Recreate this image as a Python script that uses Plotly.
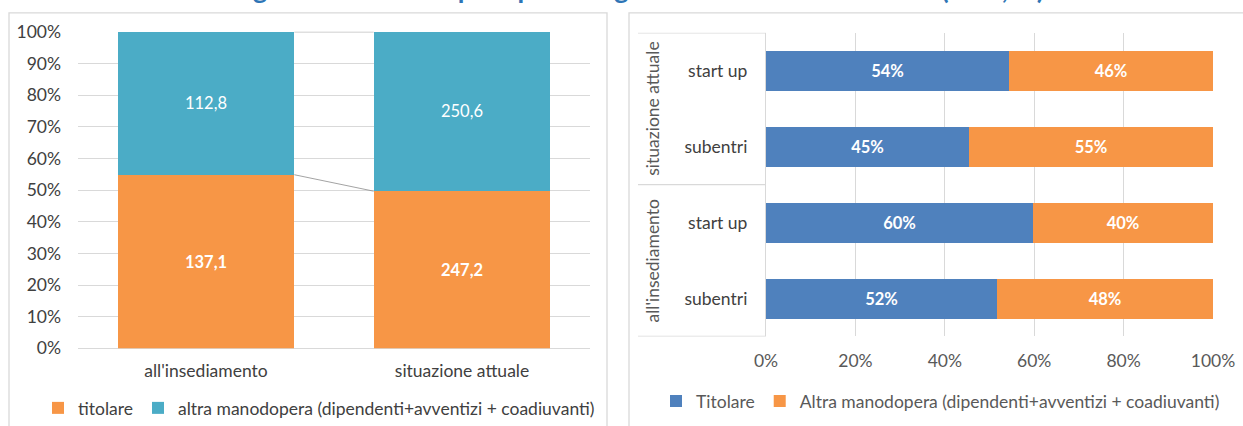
import plotly.graph_objects as go

# ---------------- data ----------------
left_categories = ["all'insediamento", "situazione attuale"]
left_titolare = [137.1, 247.2]
left_altra = [112.8, 250.6]

right_groups = ["all'insediamento", "all'insediamento", "situazione attuale", "situazione attuale"]
right_sub = ["subentri", "start up", "subentri", "start up"]
right_titolare = [51.6, 59.7, 45.4, 54.4]
right_altra = [48.4, 40.3, 54.6, 45.6]

left_ticks = [0, 10, 20, 30, 40, 50, 60, 70, 80, 90, 100]
right_ticks = [0, 20, 40, 60, 80, 100]

title_text = "Figura 5 – Manodopera per categoria e modalità di accesso (ULU, %)"

# ---------------- style ----------------
W, H = 1243, 426
FONT = "Lato"
ORANGE = "#F79646"
TEAL = "#4BACC6"
BLUE = "#4F81BD"
GRID = "#D9D9D9"
TXT = "#595959"
DARK = "#404040"
FS = 17.5
LFS = 16.5

def px_x(p):
    return p / W

def px_y(p):
    return 1 - p / H

fig = go.Figure()

# ---- left chart (100% stacked columns) ----
tot = [a + b for a, b in zip(left_titolare, left_altra)]
pct_tit = [a / t * 100 for a, t in zip(left_titolare, tot)]
pct_alt = [b / t * 100 for b, t in zip(left_altra, tot)]
xs = list(range(len(left_categories)))
bw_left = 0.69

def fmt(v):
    return f"{v:.1f}".replace(".", ",")

fig.add_trace(go.Bar(
    x=xs, y=pct_tit, width=bw_left, name="titolare", marker=dict(color=ORANGE, line=dict(width=0)),
    text=[fmt(v) for v in left_titolare], texttemplate="<b>%{text}</b>", textposition="inside",
    insidetextanchor="middle", textangle=0, textfont=dict(color="white", size=LFS, family=FONT),
    xaxis="x", yaxis="y", legend="legend", hoverinfo="skip"))
fig.add_trace(go.Bar(
    x=xs, y=pct_alt, width=bw_left, name="altra manodopera (dipendenti+avventizi + coadiuvanti)",
    marker=dict(color=TEAL, line=dict(width=0)),
    text=[fmt(v) for v in left_altra], texttemplate="%{text}", textposition="inside",
    insidetextanchor="middle", textangle=0, textfont=dict(color="white", size=LFS, family=FONT),
    xaxis="x", yaxis="y", legend="legend", hoverinfo="skip"))

# series lines
cum1 = pct_tit
cum2 = [a + b for a, b in zip(pct_tit, pct_alt)]
for cum in (cum1, cum2):
    lx, ly = [], []
    for i in range(len(xs) - 1):
        lx += [xs[i] + bw_left / 2, xs[i + 1] - bw_left / 2, None]
        ly += [cum[i], cum[i + 1], None]
    fig.add_trace(go.Scatter(x=lx, y=ly, mode="lines", line=dict(color="#8C8C8C", width=0.8),
                             showlegend=False, xaxis="x", yaxis="y", hoverinfo="skip"))

# ---- right chart (100% stacked bars) ----
ys = list(range(len(right_sub)))
bw_right = 0.53
fig.add_trace(go.Bar(
    y=ys, x=right_titolare, orientation="h", width=bw_right, name="Titolare",
    marker=dict(color=BLUE, line=dict(width=0)),
    texttemplate="<b>%{x:.0f}%</b>", textposition="inside", insidetextanchor="middle", textangle=0,
    textfont=dict(color="white", size=LFS, family=FONT),
    xaxis="x2", yaxis="y2", legend="legend2", hoverinfo="skip"))
fig.add_trace(go.Bar(
    y=ys, x=right_altra, orientation="h", width=bw_right,
    name="Altra manodopera (dipendenti+avventizi + coadiuvanti)",
    marker=dict(color=ORANGE, line=dict(width=0)),
    texttemplate="<b>%{x:.0f}%</b>", textposition="inside", insidetextanchor="middle", textangle=0,
    textfont=dict(color="white", size=LFS, family=FONT),
    xaxis="x2", yaxis="y2", legend="legend2", hoverinfo="skip"))

# group labels & dividers for the right chart
shapes = []
annotations = []
uniq = []
for g in right_groups:
    if g not in uniq:
        uniq.append(g)
bounds = [-0.5]
for g in uniq:
    idx = [i for i, gg in enumerate(right_groups) if gg == g]
    annotations.append(dict(text=g, x=px_x(653), xref="paper", y=sum(idx) / len(idx), yref="y2",
                            textangle=-90, showarrow=False, xanchor="center", yanchor="middle",
                            font=dict(family=FONT, size=FS, color=TXT)))
    bounds.append(max(idx) + 0.5)
for b in bounds:
    shapes.append(dict(type="line", xref="paper", yref="y2", x0=px_x(638), x1=px_x(766), y0=b, y1=b,
                       line=dict(color=GRID, width=1.3)))

# panel borders
shapes.append(dict(type="rect", xref="paper", yref="paper", x0=px_x(9), x1=px_x(607), y0=px_y(440), y1=px_y(13),
                   line=dict(color=GRID, width=1.3), layer="below"))
shapes.append(dict(type="rect", xref="paper", yref="paper", x0=px_x(629), x1=px_x(1260), y0=px_y(440), y1=px_y(13),
                   line=dict(color=GRID, width=1.3), layer="below"))

# clipped title (only its lower edge shows in the reference)
annotations.append(dict(text=f"<b>{title_text}</b>", x=px_x(637), xref="paper", y=px_y(7), yref="paper",
                        xanchor="center", yanchor="bottom", showarrow=False,
                        font=dict(family=FONT, size=27, color="#2E75B6")))

fig.update_layout(
    template="none",
    width=W, height=H, autosize=False, margin=dict(l=0, r=0, t=0, b=0, pad=0),
    paper_bgcolor="white", plot_bgcolor="white",
    barmode="stack", bargap=0,
    font=dict(family=FONT, size=FS, color=TXT),
    xaxis=dict(domain=[px_x(78), px_x(590)], range=[-0.5, len(xs) - 0.5], tickvals=xs,
               ticktext=left_categories, showgrid=False, zeroline=False, showline=False, automargin=False,
               ticks="", ticklabelstandoff=10, tickfont=dict(size=FS, color=DARK), fixedrange=True),
    yaxis=dict(domain=[px_y(350), px_y(32)], range=[0, 100], tickvals=left_ticks,
               ticktext=[f"{v}%" for v in left_ticks], automargin=False,
               showgrid=True, gridcolor=GRID, gridwidth=1.3, zeroline=True, zerolinecolor=GRID,
               zerolinewidth=1.3, showline=False, ticks="", ticklabelstandoff=16,
               tickfont=dict(size=FS, color=DARK), fixedrange=True),
    xaxis2=dict(domain=[px_x(766), px_x(1213)], range=[0, 100], tickvals=right_ticks,
                ticktext=[f"{v}%" for v in right_ticks], automargin=False,
                showgrid=True, gridcolor=GRID, gridwidth=1.3, zeroline=False, showline=False,
                ticks="", ticklabelstandoff=12, anchor="y2", tickfont=dict(size=FS, color=TXT), fixedrange=True),
    yaxis2=dict(domain=[px_y(338), px_y(33)], range=[-0.5, len(ys) - 0.5], tickvals=ys, ticktext=right_sub,
                showgrid=False, zeroline=False, showline=True, linecolor=GRID, linewidth=1.3, automargin=False,
                ticks="", ticklabelstandoff=14, anchor="x2", tickfont=dict(size=FS, color=DARK),
                fixedrange=True),
    legend=dict(orientation="h", x=px_x(38), y=px_y(410), xanchor="left", yanchor="middle",
                font=dict(size=FS, color=DARK), itemwidth=30, bgcolor="rgba(0,0,0,0)",
                traceorder="normal"),
    legend2=dict(orientation="h", x=px_x(656), y=px_y(403), xanchor="left", yanchor="middle",
                 font=dict(size=FS, color=TXT), itemwidth=30, bgcolor="rgba(0,0,0,0)",
                 traceorder="normal"),
    shapes=shapes, annotations=annotations,
)

fig.write_html(
    "out.html",
    config={"displayModeBar": False},
    post_script="document.body.style.margin='0';document.body.style.padding='0';document.body.style.overflow='hidden';",
)
